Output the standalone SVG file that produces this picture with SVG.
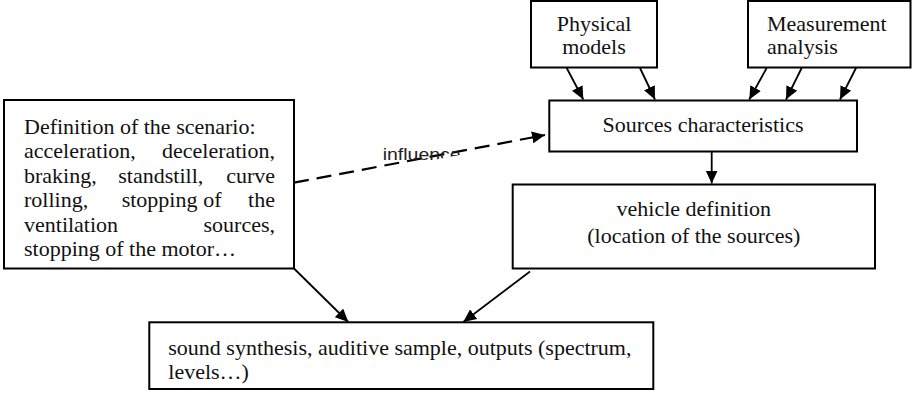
<svg xmlns="http://www.w3.org/2000/svg" width="920" height="394" viewBox="0 0 920 394">
<style>
.box{fill:#fff;stroke:#000;stroke-width:2}
.t{font-family:"Liberation Serif","Times New Roman",serif;font-size:22px;fill:#111}
.c{text-anchor:middle}
.e{text-anchor:end}
.ln{stroke:#000;stroke-width:1.8;fill:none}
.dash{stroke:#000;stroke-width:2.2;fill:none;stroke-dasharray:15 8}
.lbl{font-family:"Liberation Sans",Arial,sans-serif;font-size:17px;fill:#222}
</style>
<defs>
<marker id="ah" viewBox="0 0 13 12" refX="13" refY="6" markerWidth="13" markerHeight="12" markerUnits="userSpaceOnUse" orient="auto">
<path d="M0,0 L13,6 L0,12 z" fill="#000"/>
</marker>
<clipPath id="lblclip">
<polygon points="370,140 480,140 480,151 294,187 294,140"/>
</clipPath>
</defs>
<rect width="920" height="394" fill="#fff"/>

<g id="connectors">
<line class="ln" x1="566.7" y1="68" x2="583.3" y2="99.5" marker-end="url(#ah)"/>
<line class="ln" x1="640" y1="68" x2="655" y2="99.5" marker-end="url(#ah)"/>
<line class="ln" x1="766.7" y1="68" x2="749.3" y2="99.5" marker-end="url(#ah)"/>
<line class="ln" x1="801.7" y1="68" x2="786" y2="99.5" marker-end="url(#ah)"/>
<line class="ln" x1="856" y1="68" x2="840" y2="99.5" marker-end="url(#ah)"/>
<line class="ln" x1="711.7" y1="152" x2="711.7" y2="183.5" marker-end="url(#ah)"/>
<line class="ln" x1="294" y1="268.5" x2="348.3" y2="322" marker-end="url(#ah)"/>
<line class="ln" x1="530" y1="271.5" x2="463.3" y2="322" marker-end="url(#ah)"/>
<line class="dash" x1="294" y1="182.7" x2="545" y2="135" marker-end="url(#ah)"/>
<text class="lbl" x="382.7" y="160" textLength="78" lengthAdjust="spacingAndGlyphs" clip-path="url(#lblclip)">influence</text>
</g>

<g id="physical-models">
<rect class="box" x="531" y="1" width="126" height="66.5"/>
<text class="t c" x="594" y="30.7">Physical</text>
<text class="t c" x="594" y="54">models</text>
</g>

<g id="measurement-analysis">
<rect class="box" x="748" y="1" width="162.5" height="66.5"/>
<text class="t" x="767" y="30.7">Measurement</text>
<text class="t" x="767" y="54">analysis</text>
</g>

<g id="sources-characteristics">
<rect class="box" x="549.3" y="100.5" width="307.7" height="51"/>
<text class="t c" x="703" y="131.7">Sources characteristics</text>
</g>

<g id="scenario-definition">
<rect class="box" x="4" y="100" width="290" height="168.5"/>
<text class="t" x="24" y="134">Definition of the scenario:</text>
<text class="t" x="24" y="158.4">acceleration,</text>
<text class="t e" x="275" y="158.4">deceleration,</text>
<text class="t" x="24" y="182.8">braking,</text>
<text class="t" x="118.3" y="182.8">standstill,</text>
<text class="t e" x="275" y="182.8">curve</text>
<text class="t" x="24" y="207.2">rolling,</text>
<text class="t" x="121.7" y="207.2">stopping</text>
<text class="t" x="203.3" y="207.2">of</text>
<text class="t e" x="275" y="207.2">the</text>
<text class="t" x="24" y="231.6">ventilation</text>
<text class="t e" x="275" y="231.6">sources,</text>
<text class="t" x="24" y="256">stopping of the motor…</text>
</g>

<g id="vehicle-definition">
<rect class="box" x="512.7" y="184.5" width="362.3" height="84"/>
<text class="t c" x="693.8" y="216">vehicle definition</text>
<text class="t c" x="693.8" y="243">(location of the sources)</text>
</g>

<g id="sound-synthesis">
<rect class="box" x="149.3" y="322.3" width="504" height="66.7"/>
<text class="t" x="168.3" y="355">sound synthesis, auditive sample, outputs (spectrum,</text>
<text class="t" x="168.3" y="379">levels…)</text>
</g>
</svg>
